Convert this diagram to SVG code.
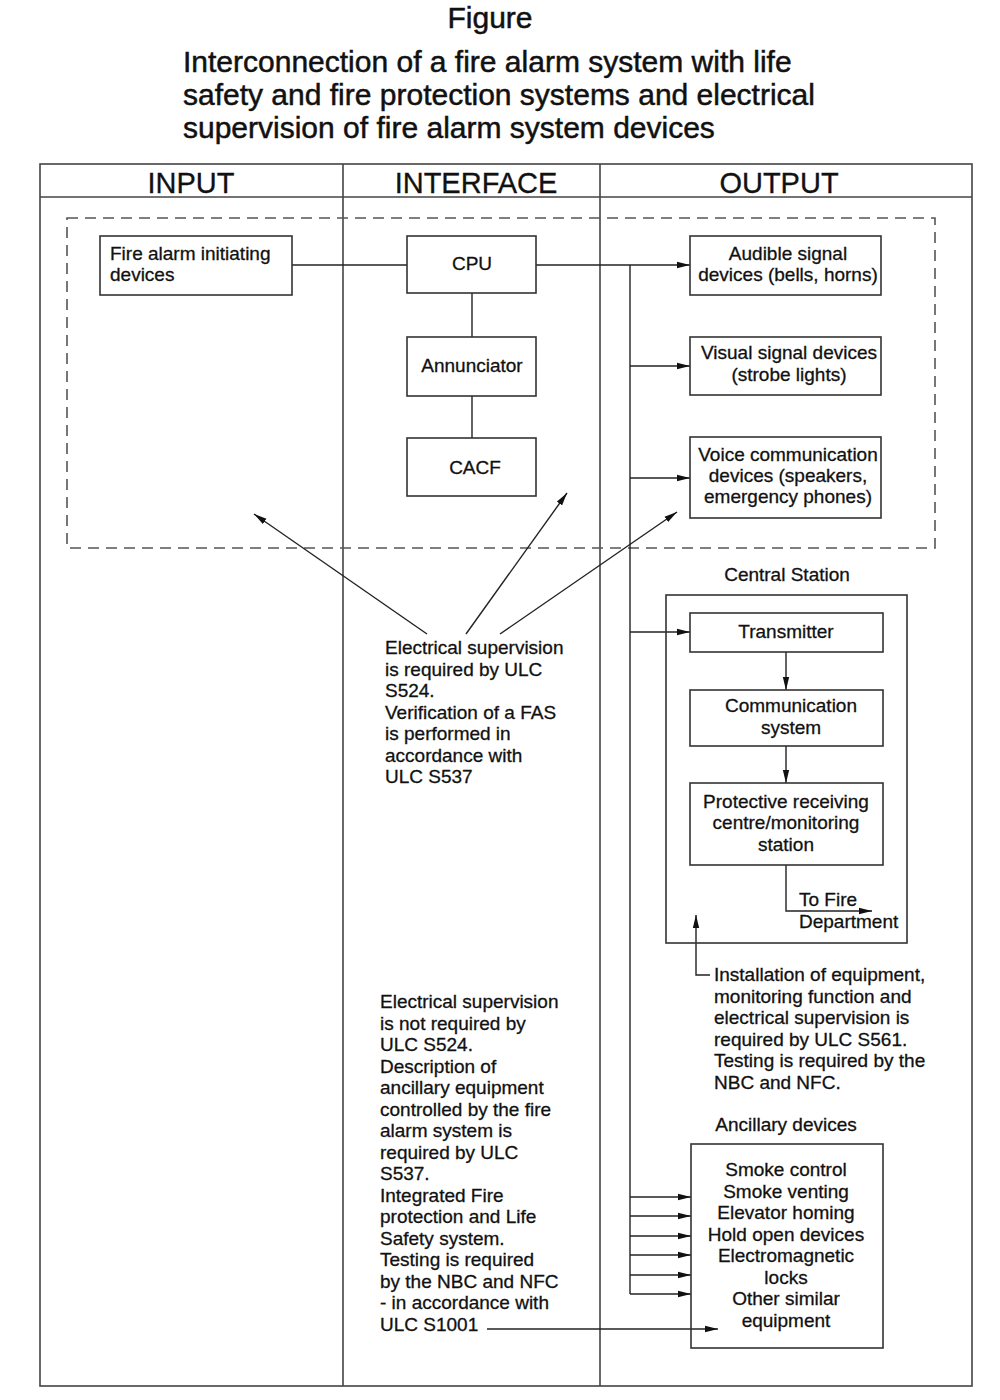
<svg xmlns="http://www.w3.org/2000/svg" width="1000" height="1400" viewBox="0 0 1000 1400">
<defs>
<marker id="arr" markerUnits="userSpaceOnUse" markerWidth="14" markerHeight="8" refX="13" refY="4" orient="auto">
<path d="M0,0.8 L13,4 L0,7.2 z" fill="#111"/>
</marker>
<style>
text{font-family:"Liberation Sans",Arial,sans-serif;fill:#111;stroke:#111;stroke-width:0.3}
.t{font-size:19px}
.c{text-anchor:middle}
.h{font-size:29px;text-anchor:middle}
.ti{font-size:30px;stroke-width:0.5}
.box{fill:none;stroke:#333;stroke-width:1.6}
.ln{fill:none;stroke:#222;stroke-width:1.4}
.grid{fill:none;stroke:#444;stroke-width:1.6}
.dash{fill:none;stroke:#555;stroke-width:1.6;stroke-dasharray:11 7}
</style>
</defs>
<rect width="1000" height="1400" fill="#fff"/>
<g id="title">
<text class="ti c" x="490" y="28">Figure</text>
<text class="ti" x="183" y="72">Interconnection of a fire alarm system with life</text>
<text class="ti" x="183" y="105">safety and fire protection systems and electrical</text>
<text class="ti" x="183" y="138">supervision of fire alarm system devices</text>
</g>
<g id="table">
<rect class="grid" x="40" y="164" width="932" height="1222"/>
<line class="grid" x1="40" y1="197" x2="972" y2="197"/>
<line class="grid" x1="343" y1="164" x2="343" y2="1386"/>
<line class="grid" x1="600" y1="164" x2="600" y2="1386"/>
<text class="h" x="191" y="193">INPUT</text>
<text class="h" x="476" y="193">INTERFACE</text>
<text class="h" x="779" y="193">OUTPUT</text>
</g>
<g id="supervised-zone">
<rect class="dash" x="67" y="218" width="868" height="330"/>
</g>
<g id="connectors">
<line class="ln" x1="292" y1="265" x2="407" y2="265"/>
<line class="ln" x1="536" y1="265" x2="690" y2="265" marker-end="url(#arr)"/>
<line class="ln" x1="472" y1="293" x2="472" y2="337"/>
<line class="ln" x1="472" y1="396" x2="472" y2="438"/>
<line class="ln" x1="630" y1="265" x2="630" y2="1294"/>
<line class="ln" x1="630" y1="366" x2="690" y2="366" marker-end="url(#arr)"/>
<line class="ln" x1="630" y1="478" x2="690" y2="478" marker-end="url(#arr)"/>
<line class="ln" x1="630" y1="632" x2="690" y2="632" marker-end="url(#arr)"/>
<line class="ln" x1="786" y1="652" x2="786" y2="690" marker-end="url(#arr)"/>
<line class="ln" x1="786" y1="746" x2="786" y2="783" marker-end="url(#arr)"/>
<polyline class="ln" points="786,865 786,911 872,911" marker-end="url(#arr)"/>
<polyline class="ln" points="710,975 696,975 696,915" marker-end="url(#arr)"/>
<line class="ln" x1="630" y1="1197" x2="691" y2="1197" marker-end="url(#arr)"/>
<line class="ln" x1="630" y1="1216" x2="691" y2="1216" marker-end="url(#arr)"/>
<line class="ln" x1="630" y1="1236" x2="691" y2="1236" marker-end="url(#arr)"/>
<line class="ln" x1="630" y1="1255" x2="691" y2="1255" marker-end="url(#arr)"/>
<line class="ln" x1="630" y1="1275" x2="691" y2="1275" marker-end="url(#arr)"/>
<line class="ln" x1="630" y1="1294" x2="691" y2="1294" marker-end="url(#arr)"/>
<line class="ln" x1="487" y1="1329" x2="718" y2="1329" marker-end="url(#arr)"/>
<line class="ln" x1="427" y1="634" x2="254" y2="514" marker-end="url(#arr)"/>
<line class="ln" x1="466" y1="634" x2="567" y2="493" marker-end="url(#arr)"/>
<line class="ln" x1="500" y1="634" x2="677" y2="512" marker-end="url(#arr)"/>
</g>
<g id="fire-alarm-initiating">
<rect class="box" x="100" y="236" width="192" height="59"/>
<text class="t" x="110" y="260">Fire alarm initiating</text>
<text class="t" x="110" y="281">devices</text>
</g>
<g id="cpu">
<rect class="box" x="407" y="236" width="129" height="57"/>
<text class="t c" x="472" y="270">CPU</text>
</g>
<g id="annunciator">
<rect class="box" x="407" y="337" width="129" height="59"/>
<text class="t c" x="472" y="372">Annunciator</text>
</g>
<g id="cacf">
<rect class="box" x="407" y="438" width="129" height="58"/>
<text class="t c" x="475" y="474">CACF</text>
</g>
<g id="audible">
<rect class="box" x="690" y="236" width="191" height="59"/>
<text class="t c" x="788" y="260">Audible signal</text>
<text class="t c" x="788" y="281">devices (bells, horns)</text>
</g>
<g id="visual">
<rect class="box" x="690" y="337" width="191" height="58"/>
<text class="t c" x="789" y="359">Visual signal devices</text>
<text class="t c" x="789" y="381">(strobe lights)</text>
</g>
<g id="voice">
<rect class="box" x="690" y="437" width="191" height="81"/>
<text class="t c" x="788" y="461">Voice communication</text>
<text class="t c" x="788" y="482">devices (speakers,</text>
<text class="t c" x="788" y="503">emergency phones)</text>
</g>
<g id="central-station">
<text class="t c" x="787" y="581">Central Station</text>
<rect class="box" x="666" y="595" width="241" height="348"/>
</g>
<g id="transmitter">
<rect class="box" x="690" y="613" width="193" height="39"/>
<text class="t c" x="786" y="638">Transmitter</text>
</g>
<g id="communication-system">
<rect class="box" x="690" y="690" width="193" height="56"/>
<text class="t c" x="791" y="712">Communication</text>
<text class="t c" x="791" y="734">system</text>
</g>
<g id="protective-receiving">
<rect class="box" x="690" y="783" width="193" height="82"/>
<text class="t c" x="786" y="808">Protective receiving</text>
<text class="t c" x="786" y="829">centre/monitoring</text>
<text class="t c" x="786" y="851">station</text>
</g>
<g id="to-fire-department">
<text class="t" x="799" y="906">To Fire</text>
<text class="t" x="799" y="928">Department</text>
</g>
<g id="note-s524">
<text class="t" x="385" y="654">Electrical supervision</text>
<text class="t" x="385" y="675.5">is required by ULC</text>
<text class="t" x="385" y="697">S524.</text>
<text class="t" x="385" y="718.5">Verification of a FAS</text>
<text class="t" x="385" y="740">is performed in</text>
<text class="t" x="385" y="761.5">accordance with</text>
<text class="t" x="385" y="783">ULC S537</text>
</g>
<g id="note-s561">
<text class="t" x="714" y="981">Installation of equipment,</text>
<text class="t" x="714" y="1002.5">monitoring function and</text>
<text class="t" x="714" y="1024">electrical supervision is</text>
<text class="t" x="714" y="1045.5">required by ULC S561.</text>
<text class="t" x="714" y="1067">Testing is required by the</text>
<text class="t" x="714" y="1088.5">NBC and NFC.</text>
</g>
<g id="note-ancillary">
<text class="t" x="380" y="1008">Electrical supervision</text>
<text class="t" x="380" y="1029.5">is not required by</text>
<text class="t" x="380" y="1051">ULC S524.</text>
<text class="t" x="380" y="1072.5">Description of</text>
<text class="t" x="380" y="1094">ancillary equipment</text>
<text class="t" x="380" y="1115.5">controlled by the fire</text>
<text class="t" x="380" y="1137">alarm system is</text>
<text class="t" x="380" y="1158.5">required by ULC</text>
<text class="t" x="380" y="1180">S537.</text>
<text class="t" x="380" y="1201.5">Integrated Fire</text>
<text class="t" x="380" y="1223">protection and Life</text>
<text class="t" x="380" y="1244.5">Safety system.</text>
<text class="t" x="380" y="1266">Testing is required</text>
<text class="t" x="380" y="1287.5">by the NBC and NFC</text>
<text class="t" x="380" y="1309">- in accordance with</text>
<text class="t" x="380" y="1330.5">ULC S1001</text>
</g>
<g id="ancillary-devices">
<text class="t c" x="786" y="1131">Ancillary devices</text>
<rect class="box" x="691" y="1144" width="192" height="204"/>
<text class="t c" x="786" y="1176">Smoke control</text>
<text class="t c" x="786" y="1197.5">Smoke venting</text>
<text class="t c" x="786" y="1219">Elevator homing</text>
<text class="t c" x="786" y="1240.5">Hold open devices</text>
<text class="t c" x="786" y="1262">Electromagnetic</text>
<text class="t c" x="786" y="1283.5">locks</text>
<text class="t c" x="786" y="1305">Other similar</text>
<text class="t c" x="786" y="1326.5">equipment</text>
</g>
</svg>
